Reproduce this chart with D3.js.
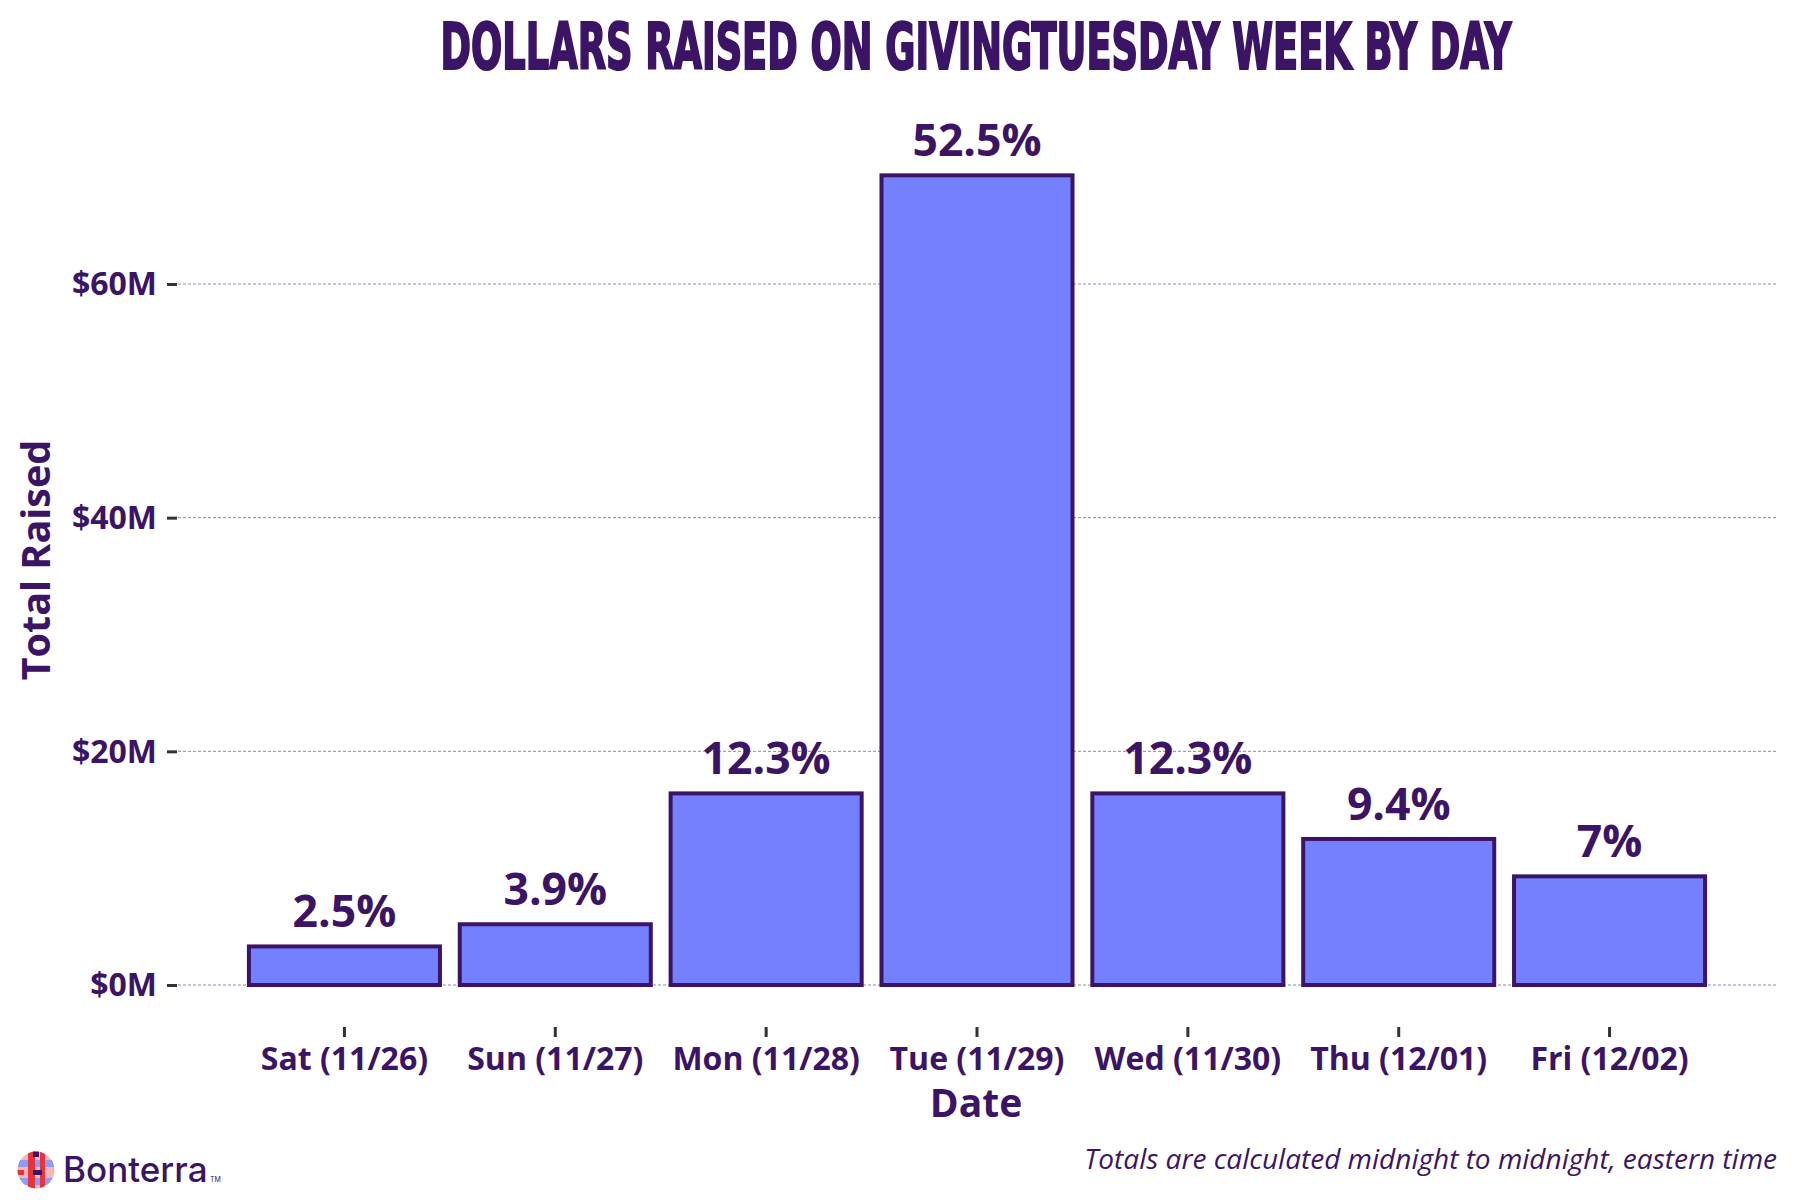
<!DOCTYPE html>
<html><head><meta charset="utf-8">
<script src="https://cdn.jsdelivr.net/npm/d3@7"></script>
<style>body{margin:0;background:#fff}svg{display:block}</style>
</head><body>
<script>
const categories = ["Sat (11/26)","Sun (11/27)","Mon (11/28)","Tue (11/29)","Wed (11/30)","Thu (12/01)","Fri (12/02)"];
const totalsM = [3.3, 5.2, 16.4, 69.3, 16.4, 12.5, 9.3];
const shareLabels = ["2.5%","3.9%","12.3%","52.5%","12.3%","9.4%","7%"];
const yTicks = [0, 20, 40, 60];
const yTickLabels = ["$0M","$20M","$40M","$60M"];

const W = 1800, H = 1200;
const dark = "#3b1466";
const svg = d3.select("body").append("svg").attr("width", W).attr("height", H);

const x = d3.scaleBand().domain(categories).range([239, 1715]).paddingInner(0.094).paddingOuter(0.047);
const y = d3.scaleLinear().domain([0, 60]).range([985, 284]);

// gridlines
svg.append("g").selectAll("line").data(yTicks).join("line")
  .attr("x1", 178).attr("x2", 1778)
  .attr("y1", d => y(d)).attr("y2", d => y(d))
  .attr("stroke", "#8c86b8").attr("stroke-width", 1).attr("stroke-dasharray", "3,2");

// y axis
const yAxis = svg.append("g").attr("transform", "translate(177,0)")
  .call(d3.axisLeft(y).tickValues(yTicks).tickFormat((d,i) => yTickLabels[i]).tickSize(10).tickPadding(10));
yAxis.select(".domain").remove();
yAxis.selectAll(".tick line").attr("stroke", "#333").attr("stroke-width", 3);
yAxis.selectAll(".tick text").attr("fill", dark).attr("font-family", "Open Sans")
  .attr("font-weight", 700).attr("font-size", 32).attr("dy", "0.34em");

// x axis
const xAxis = svg.append("g").attr("transform", "translate(0,1027)")
  .call(d3.axisBottom(x).tickSize(10).tickPadding(10));
xAxis.select(".domain").remove();
xAxis.selectAll(".tick line").attr("stroke", "#333").attr("stroke-width", 3);
xAxis.selectAll(".tick text").attr("fill", dark).attr("font-family", "Open Sans")
  .attr("font-weight", 700).attr("font-size", 32);

// bars
svg.append("g").selectAll("rect").data(categories).join("rect")
  .attr("x", d => x(d)).attr("width", x.bandwidth())
  .attr("y", (d,i) => y(totalsM[i])).attr("height", (d,i) => y(0) - y(totalsM[i]))
  .attr("fill", "#7580ff").attr("stroke", dark).attr("stroke-width", 4);

// bar labels
svg.append("g").selectAll("text").data(categories).join("text")
  .attr("x", d => x(d) + x.bandwidth()/2)
  .attr("y", (d,i) => y(totalsM[i]) - 19)
  .attr("text-anchor", "middle").attr("fill", dark)
  .attr("font-family", "Open Sans").attr("font-weight", 700).attr("font-size", 44.5)
  .text((d,i) => shareLabels[i]);

// axis titles
svg.append("text").attr("x", 976).attr("y", 1117).attr("text-anchor", "middle")
  .attr("fill", dark).attr("font-family", "Open Sans").attr("font-weight", 700).attr("font-size", 39)
  .text("Date");
svg.append("text").attr("transform", "translate(50,560) rotate(-90)").attr("text-anchor", "middle")
  .attr("fill", dark).attr("font-family", "Open Sans").attr("font-weight", 700).attr("font-size", 39.5)
  .text("Total Raised");

// title (stretched to match the condensed display face)
const title = svg.append("text").attr("x", 0).attr("y", 0).attr("text-anchor", "middle")
  .attr("fill", dark).attr("stroke", dark).attr("stroke-width", 2.2)
  .attr("font-family", "Liberation Sans Narrow, DejaVu Sans Condensed, sans-serif").attr("font-weight", 700)
  .attr("font-size", 64)
  .text("DOLLARS RAISED ON GIVINGTUESDAY WEEK BY DAY");
const tw = title.node().getComputedTextLength();
title.attr("transform", `translate(976,69) scale(${1071 / tw},1)`);

// footnote
svg.append("text").attr("x", 1777).attr("y", 1169).attr("text-anchor", "end")
  .attr("fill", dark).attr("font-family", "Open Sans").attr("font-style", "italic").attr("font-size", 28)
  .text("Totals are calculated midnight to midnight, eastern time");

// logo
const logo = svg.append("g").attr("transform", "translate(36,1170)");
const defs = svg.append("defs");
defs.append("clipPath").attr("id", "lc").append("circle").attr("r", 18.5);
const lg = logo.append("g").attr("clip-path", "url(#lc)");
lg.append("rect").attr("x", -19).attr("y", -19).attr("width", 38).attr("height", 38).attr("fill", "#f6b6b8");
lg.append("rect").attr("x", -19).attr("y", -10).attr("width", 38).attr("height", 7).attr("fill", "#8f9cf5");
lg.append("rect").attr("x", -19).attr("y", 8).attr("width", 38).attr("height", 7).attr("fill", "#8f9cf5");
lg.append("rect").attr("x", -8).attr("y", -19).attr("width", 7).attr("height", 38).attr("fill", "#e8323c");
lg.append("rect").attr("x", 4).attr("y", -19).attr("width", 5).attr("height", 38).attr("fill", "#e8323c");
lg.append("rect").attr("x", -3).attr("y", -19).attr("width", 6).attr("height", 6).attr("fill", dark);
lg.append("rect").attr("x", -3).attr("y", 0).attr("width", 9).attr("height", 5).attr("fill", dark);
lg.append("rect").attr("x", -19).attr("y", 0).attr("width", 7).attr("height", 5).attr("fill", "#e8323c");
svg.append("text").attr("x", 63).attr("y", 1182).attr("fill", dark)
  .attr("font-family", "Inter, Lato, sans-serif").attr("font-weight", 500).attr("font-size", 35)
  .text("Bonterra");
svg.append("text").attr("x", 210).attr("y", 1182).attr("fill", dark)
  .attr("font-family", "Inter, sans-serif").attr("font-size", 7).text("TM");
</script>
</body></html>
